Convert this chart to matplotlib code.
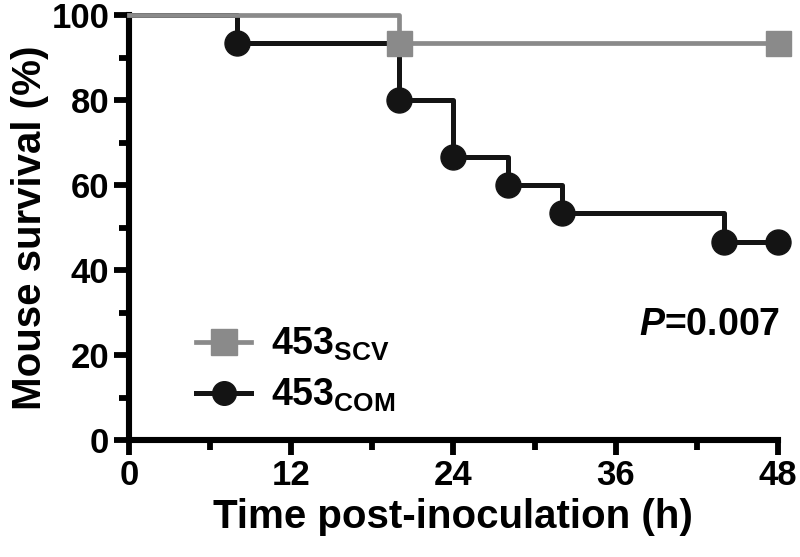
import matplotlib

matplotlib.use("Agg")
import matplotlib.pyplot as plt
from matplotlib.lines import Line2D
from matplotlib.ticker import MultipleLocator

plt.rcParams["font.family"] = ["Liberation Sans", "DejaVu Sans"]
plt.rcParams["font.weight"] = "bold"
plt.rcParams["mathtext.fontset"] = "custom"
plt.rcParams["mathtext.rm"] = "Liberation Sans:bold"
plt.rcParams["mathtext.bf"] = "Liberation Sans:bold"
plt.rcParams["mathtext.it"] = "Liberation Sans:bold:italic"

GRAY = "#8a8a8a"
BLACK = "#141414"

# Kaplan-Meier steps (time in h, survival in %)
scv_time = [0, 20, 48]
scv_surv = [100, 93.33, 93.33]
com_time = [0, 8, 20, 24, 28, 32, 44, 48]
com_surv = [100, 93.33, 80, 66.67, 60, 53.33, 46.67, 46.67]

x_ticks = [0, 12, 24, 36, 48]
y_ticks = [0, 20, 40, 60, 80, 100]

fig = plt.figure(figsize=(8.0, 5.57), dpi=100, facecolor="white")
ax = fig.add_axes([0.161, 0.21, 0.8115, 0.763])

ax.step(com_time, com_surv, where="post", color=BLACK, lw=3.6, zorder=3, clip_on=False)
ax.plot(com_time[1:], com_surv[1:], "o", color=BLACK, ms=18, zorder=4, clip_on=False)
ax.step(scv_time, scv_surv, where="post", color=GRAY, lw=3.4, zorder=5, clip_on=False)
ax.plot(scv_time[1:], scv_surv[1:], "s", color=GRAY, ms=18, zorder=6, clip_on=False)

ax.set_xlim(0, 48)
ax.set_ylim(0, 100)
ax.set_xticks(x_ticks)
ax.set_yticks(y_ticks)
ax.xaxis.set_minor_locator(MultipleLocator(6))
ax.yaxis.set_minor_locator(MultipleLocator(10))
for side in ["top", "right"]:
    ax.spines[side].set_visible(False)
for side in ["left", "bottom"]:
    ax.spines[side].set_linewidth(4.4)
    ax.spines[side].set_capstyle("projecting")
ax.tick_params(which="major", length=11, width=4.2, labelsize=25, pad=3)
ax.tick_params(which="minor", length=7.5, width=4.2)

ax.set_xlabel("Time post-inoculation (h)", fontsize=29, fontweight="bold", labelpad=4)
ax.set_ylabel("Mouse survival (%)", fontsize=29, fontweight="bold", labelpad=2)

handles = [
    Line2D([], [], color=GRAY, lw=3.4, marker="s", ms=19),
    Line2D([], [], color=BLACK, lw=3.6, marker="o", ms=17),
]
labels = [r"453$_{\mathrm{SCV}}$", r"453$_{\mathrm{COM}}$"]
ax.legend(handles, labels, loc="center left", bbox_to_anchor=(0.104, 0.165), frameon=False,
          fontsize=27, handlelength=1.45, labelspacing=0.36, handletextpad=0.55,
          borderaxespad=0, borderpad=0)

ax.text(1.003, 0.27, r"$P$=0.007", transform=ax.transAxes, ha="right", va="center",
        fontsize=27, fontweight="bold")

fig.savefig("out.png", dpi=100, facecolor="white")
